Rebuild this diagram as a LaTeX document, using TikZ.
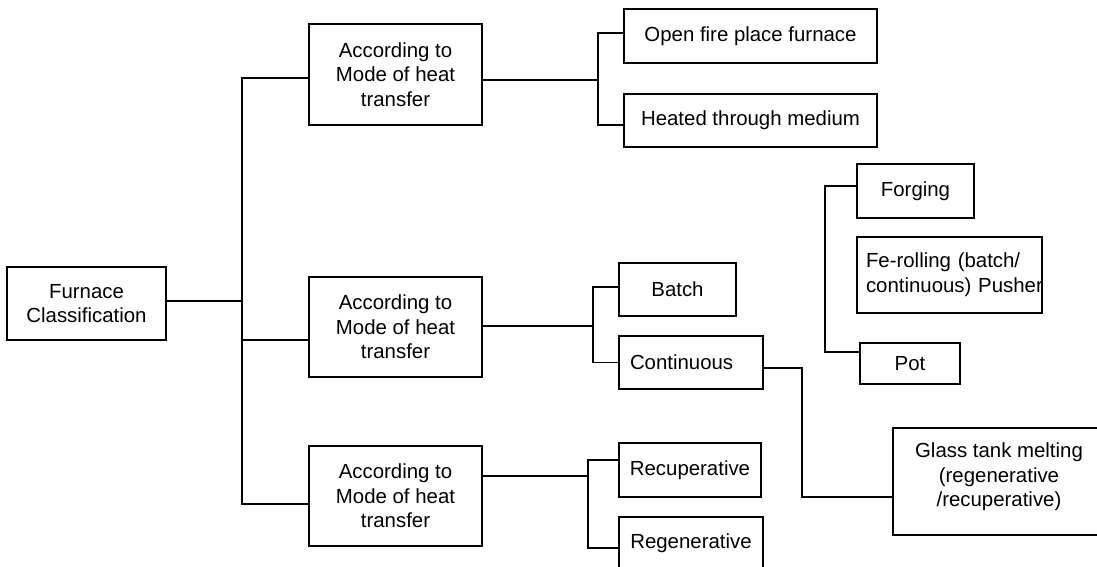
\documentclass[tikz,border=0pt]{standalone}
\usepackage{fontspec}
\setmainfont{Liberation Sans}
\usetikzlibrary{calc}
\tikzset{
  box/.style={draw, line width=1.4pt, inner sep=0pt, align=center, font=\fontsize{15.3}{18.5}\selectfont},
  conn/.style={line width=1.4pt}
}
\begin{document}
\begin{tikzpicture}[x=0.75pt,y=-0.75pt]
\path[use as bounding box, fill=white] (0,0) rectangle (1097,567);
\clip (0,0) rectangle (1097,567);
% nodes
\node[box, minimum width=119.25pt, minimum height=54.75pt] (F) at (86.5,303.5) {Furnace\\Classification};
\node[box, minimum width=129.75pt, minimum height=75.75pt] (A1) at (395.5,74.5) {According to\\Mode of heat\\transfer};
\node[box, minimum width=129.75pt, minimum height=75pt] (A2) at (395.5,327) {According to\\Mode of heat\\transfer};
\node[box, minimum width=129.75pt, minimum height=75pt] (A3) at (395.5,496) {According to\\Mode of heat\\transfer};
\node[box, minimum width=189.75pt, minimum height=40.5pt] (O) at (750.5,36) {Open fire place furnace};
\node[box, minimum width=189.75pt, minimum height=39.75pt] (H) at (750.5,120.5) {Heated through medium};
\node[box, minimum width=87.75pt, minimum height=40.5pt] (Fg) at (915.5,191) {Forging};
\node[box, minimum width=138.75pt, minimum height=57pt, text width=125.25pt, align=left, text depth=22.5pt] (Fe) at (949.5,275) {Fe-rolling (batch/\\continuous)~Pusher};
\node[box, minimum width=75pt, minimum height=30.75pt] (P) at (910,363.5) {Pot};
\node[box, minimum width=87.75pt, minimum height=39.75pt] (B) at (677.5,289.5) {Batch};
\node[box, minimum width=108pt, minimum height=39.75pt, text width=91.5pt, align=left] (C) at (691,362.5) {Continuous};
\node[box, minimum width=159pt, minimum height=80.25pt, text depth=10pt] (G) at (999,481.5) {Glass tank melting\\(regenerative\\/recuperative)};
\node[box, minimum width=106.5pt, minimum height=40.5pt] (Rc) at (690,470) {Recuperative};
\node[box, minimum width=108pt, minimum height=43.5pt, text depth=8pt] (Rg) at (691,546) {Regenerative};
% junction coordinates
\coordinate (T) at (242,0);
\coordinate (V1) at (598,0);
\coordinate (V2) at (593,0);
\coordinate (V3) at (588,0);
\coordinate (V4) at (802,0);
\coordinate (V5) at (825,0);
\coordinate (fe) at ($(F.east)+(0,-2.5)$);
\coordinate (a1w) at ($(A1.west)+(0,3.5)$);
\coordinate (a2w) at ($(A2.west)+(0,13)$);
\coordinate (a3w) at ($(A3.west)+(0,8)$);
\coordinate (a1e) at ($(A1.east)+(0,5.5)$);
\coordinate (a2e) at ($(A2.east)+(0,-1)$);
\coordinate (a3e) at ($(A3.east)+(0,-20)$);
\coordinate (ow) at ($(O.west)+(0,-3)$);
\coordinate (hw) at ($(H.west)+(0,4.5)$);
\coordinate (bw) at ($(B.west)+(0,-2.5)$);
\coordinate (cw) at (C.west);
\coordinate (ce) at ($(C.east)+(0,5.5)$);
\coordinate (gw) at ($(G.west)+(0,15.5)$);
\coordinate (rcw) at ($(Rc.west)+(0,-10)$);
\coordinate (rgw) at ($(Rg.west)+(0,2)$);
\coordinate (fgw) at ($(Fg.west)+(0,-5)$);
\coordinate (pw) at ($(P.west)+(0,-11.5)$);
% connectors
\draw[conn] (fe) -- (fe -| T);
\draw[conn] (a1w) -- (a1w -| T) -- (a3w -| T) -- (a3w);
\draw[conn] (a2w) -- (a2w -| T);
\draw[conn] (a1e) -- (a1e -| V1);
\draw[conn] (ow) -- (ow -| V1) -- (hw -| V1) -- (hw);
\draw[conn] (a2e) -- (a2e -| V2);
\draw[conn] (bw) -- (bw -| V2) -- (cw -| V2) -- (cw);
\draw[conn] (ce) -- (ce -| V4) -- (gw -| V4) -- (gw);
\draw[conn] (a3e) -- (a3e -| V3);
\draw[conn] (rcw) -- (rcw -| V3) -- (rgw -| V3) -- (rgw);
\draw[conn] (fgw) -- (fgw -| V5) -- (pw -| V5) -- (pw);
\end{tikzpicture}
\end{document}
